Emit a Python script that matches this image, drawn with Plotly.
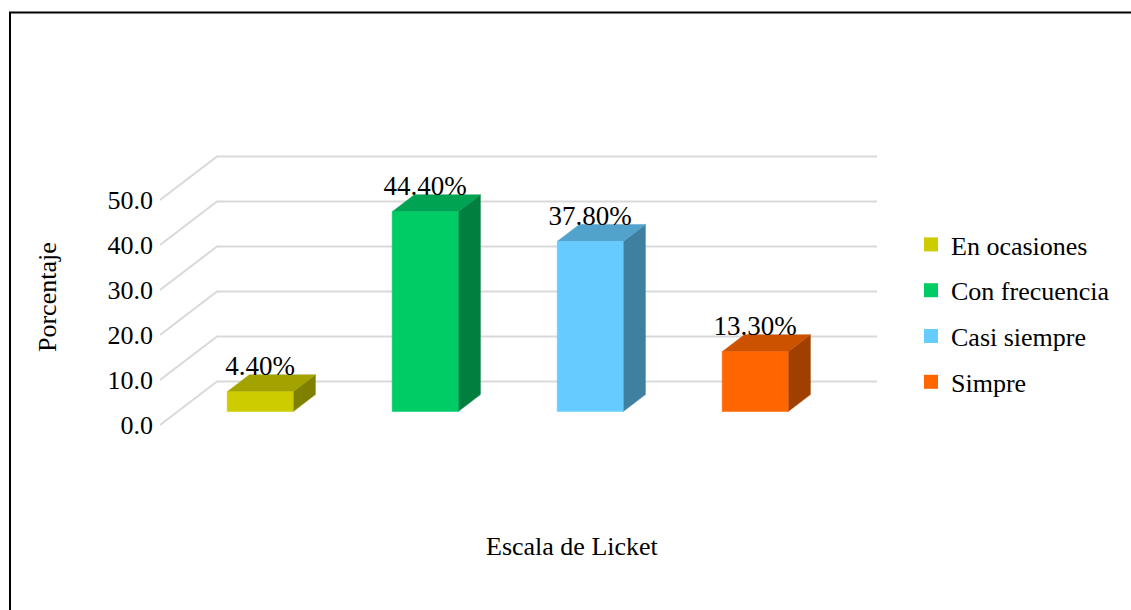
import plotly.graph_objects as go

# ---------------- data ----------------
categories = ["En ocasiones", "Con frecuencia", "Casi siempre", "Simpre"]
values = [4.4, 44.4, 37.8, 13.3]
value_labels = ["4.40%", "44.40%", "37.80%", "13.30%"]
ytick_vals = [0, 10, 20, 30, 40, 50]
ytick_text = ["0.0", "10.0", "20.0", "30.0", "40.0", "50.0"]

# ---------------- styles ----------------
front_colors = ["#CCCC00", "#00CC66", "#66CCFF", "#FF6600"]
top_colors = ["#A3A300", "#00A352", "#52A3CC", "#CC5200"]
side_colors = ["#7F7F00", "#007F3F", "#3F7FA0", "#A04000"]
grid_color = "#D9D9D9"
FONT = "Liberation Serif, Times New Roman, serif"

# pseudo-3D geometry (in axis units)
wall_dx = 57 / 165.0     # depth offset along x
wall_dy = 43.5 / 4.5     # depth offset along y
half_w = 0.2             # half bar width
f_front, f_back = 0.31, 0.70

W, H = 1131, 610
ML, MR, MT, MB = 160, 251, 140, 180
px_per_x = 165.0
px_per_y = 4.5
x_range = [0, (W - ML - MR) / px_per_x]
y_range = [(425 - (H - MB)) / px_per_y, (425 - MT) / px_per_y]

fig = go.Figure()

# back wall gridlines with diagonal side lines
n = len(categories)
for v in ytick_vals:
    fig.add_trace(go.Scatter(
        x=[0, wall_dx, n + wall_dx], y=[v, v + wall_dy, v + wall_dy],
        mode="lines", line=dict(color=grid_color, width=2),
        hoverinfo="skip", showlegend=False))

# bars
fx, fy = f_front * wall_dx, f_front * wall_dy
ddx, ddy = (f_back - f_front) * wall_dx, (f_back - f_front) * wall_dy
for i, v in enumerate(values):
    c = i + 0.5
    xl, xr = c - half_w + fx, c + half_w + fx
    y0, y1 = fy, v + fy
    fig.add_trace(go.Scatter(
        x=[xr, xr + ddx, xr + ddx, xr, xr], y=[y0, y0 + ddy, y1 + ddy, y1, y0],
        mode="lines", fill="toself", fillcolor=side_colors[i],
        line=dict(color=side_colors[i], width=0.5), hoverinfo="skip", showlegend=False))
    fig.add_trace(go.Scatter(
        x=[xl, xr, xr + ddx, xl + ddx, xl], y=[y1, y1, y1 + ddy, y1 + ddy, y1],
        mode="lines", fill="toself", fillcolor=top_colors[i],
        line=dict(color=top_colors[i], width=0.5), hoverinfo="skip", showlegend=False))
    fig.add_trace(go.Scatter(
        x=[xl, xr, xr, xl, xl], y=[y0, y0, y1, y1, y0],
        mode="lines", fill="toself", fillcolor=front_colors[i],
        line=dict(color=front_colors[i], width=0.5), hoverinfo="skip", showlegend=False))

# data labels
fig.add_trace(go.Scatter(
    x=[i + 0.5 + fx for i in range(n)],
    y=[v + f_back * wall_dy - 1.55 for v in values],
    mode="text", text=value_labels, textposition="top center",
    textfont=dict(family=FONT, size=27, color="black"),
    cliponaxis=False, hoverinfo="skip", showlegend=False))

# legend entries
for i, cat in enumerate(categories):
    fig.add_trace(go.Scatter(
        x=[None], y=[None], mode="markers", name=cat, legendgroup=cat,
        marker=dict(symbol="square", size=14, color=front_colors[i])))

pw, ph = W - ML - MR, H - MT - MB
def px2paper_x(px):
    return (px - ML) / pw
def px2paper_y(py):
    return (H - MB - py) / ph

fig.update_layout(
    width=W, height=H,
    margin=dict(l=ML, r=MR, t=MT, b=MB, pad=0),
    paper_bgcolor="white", plot_bgcolor="white",
    font=dict(family=FONT, size=27, color="black"),
    xaxis=dict(range=x_range, visible=False, fixedrange=True),
    yaxis=dict(range=y_range, tickvals=ytick_vals, ticktext=ytick_text,
               showgrid=False, zeroline=False, showline=False, ticks="",
               ticklabelstandoff=6, tickfont=dict(family=FONT, size=26, color="black"),
               fixedrange=True),
    showlegend=True,
    legend=dict(x=px2paper_x(911), y=px2paper_y(221), xanchor="left", yanchor="top",
                font=dict(family=FONT, size=26, color="black"),
                tracegroupgap=9, bgcolor="rgba(0,0,0,0)", itemwidth=30),
    annotations=[
        dict(text="Porcentaje", x=px2paper_x(47), y=px2paper_y(297), xref="paper", yref="paper",
             xanchor="center", yanchor="middle",
             showarrow=False, textangle=-90, font=dict(family=FONT, size=26, color="black")),
        dict(text="Escala de Licket", x=px2paper_x(572), y=px2paper_y(546), xref="paper", yref="paper",
             xanchor="center", yanchor="middle",
             showarrow=False, font=dict(family=FONT, size=26, color="black")),
    ],
    shapes=[dict(type="rect", xref="paper", yref="paper",
                 x0=px2paper_x(10), x1=px2paper_x(1145),
                 y0=px2paper_y(625), y1=px2paper_y(12.5),
                 line=dict(color="black", width=2), fillcolor="rgba(0,0,0,0)", layer="above")],
)

fig.write_html("out.html", config={"displayModeBar": False},
               post_script="document.body.style.margin='0px';document.body.style.overflow='hidden';")
